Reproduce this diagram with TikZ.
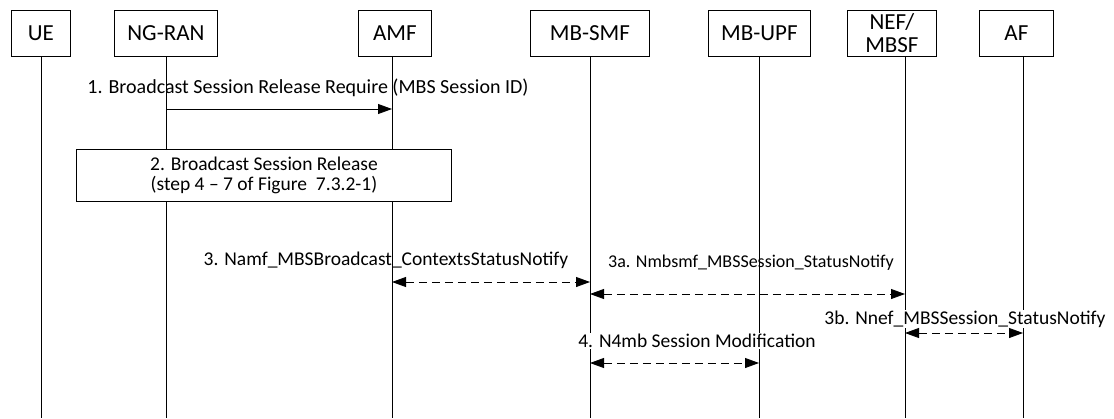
\documentclass[tikz,border=0pt]{standalone}
\usepackage{fontspec}
\setmainfont{Carlito}
\usetikzlibrary{arrows.meta}
\begin{document}
\begin{tikzpicture}[x=1pt,y=-1pt,
  ent/.style={draw,line width=0.8pt,minimum height=46pt,inner sep=0pt,font=\fontsize{23}{23}\selectfont,anchor=north west},
  life/.style={line width=0.8pt},
  tip/.tip={Triangle[length=14pt,width=10pt]},
  msg/.style={line width=0.8pt,-tip},
  dmsg/.style={line width=0.8pt,dash pattern=on 8pt off 5pt,tip-tip},
  lbl/.style={font=\fontsize{19.5}{19.5}\selectfont,inner sep=1pt}
]
\useasboundingbox (0,0) rectangle (1114,418);
\node[ent,minimum width=59pt] (ue) at (11,10) {UE};
\node[ent,minimum width=103pt] (ran) at (114,10) {NG-RAN};
\node[ent,minimum width=73pt] (amf) at (358,10) {AMF};
\node[ent,minimum width=119pt] (smf) at (530,10) {MB-SMF};
\node[ent,minimum width=102pt] (upf) at (708,10) {MB-UPF};
\node[ent,minimum width=89pt,align=center,font=\fontsize{23}{23}\selectfont] (nef) at (847,10) {\raisebox{5pt}{NEF/}\\[-5pt]MBSF};
\node[ent,minimum width=74pt] (af) at (979,10) {AF};
% lifelines
\foreach \n/\x in {ue/41,ran/166,amf/392,smf/590,upf/759,nef/905,af/1023}{
  \coordinate (\n top) at (\x,56);
  \coordinate (\n bot) at (\x,418);
}
\foreach \n in {ue,ran,amf,smf,upf,nef,af}{\draw[life] (\n top) -- (\n bot);}
% step 1
\coordinate (m1s) at (166,109);
\coordinate (m1e) at (392,109);
\draw[msg] (m1s) -- (m1e);
\node[lbl,font=\fontsize{20}{20}\selectfont] (l1) at (308,88) {1. Broadcast Session Release Require (MBS Session ID)};
% step 2
\node[draw,fill=white,line width=0.8pt,minimum width=375pt,minimum height=52pt,align=center,font=\fontsize{19.5}{20}\selectfont,inner sep=0pt] (s2) at (264,175) {2. Broadcast Session Release\\(step 4 -- 7 of Figure~ 7.3.2-1)};
% step 3
\coordinate (m3s) at (392,282);
\coordinate (m3e) at (590,282);
\draw[dmsg] (m3s) -- (m3e);
\node[lbl] (l3) at (386,260) {3. Namf\_MBSBroadcast\_ContextsStatusNotify};
% step 3a
\coordinate (m3as) at (590,294);
\coordinate (m3ae) at (905,294);
\draw[dmsg] (m3as) -- (m3ae);
\node[lbl,font=\fontsize{18}{18}\selectfont] (l3a) at (751,263) {3a. Nmbsmf\_MBSSession\_StatusNotify};
% step 3b
\node[lbl,fill=white] (l3b) at (965,319) {3b. Nnef\_MBSSession\_StatusNotify};
\coordinate (m3bs) at (905,333);
\coordinate (m3be) at (1023,333);
\draw[dmsg] (m3bs) -- (m3be);
% step 4
\node[lbl,fill=white] (l4) at (697,341) {4. N4mb Session Modification};
\coordinate (m4s) at (590,363);
\coordinate (m4e) at (759,363);
\draw[dmsg] (m4s) -- (m4e);
\end{tikzpicture}
\end{document}
